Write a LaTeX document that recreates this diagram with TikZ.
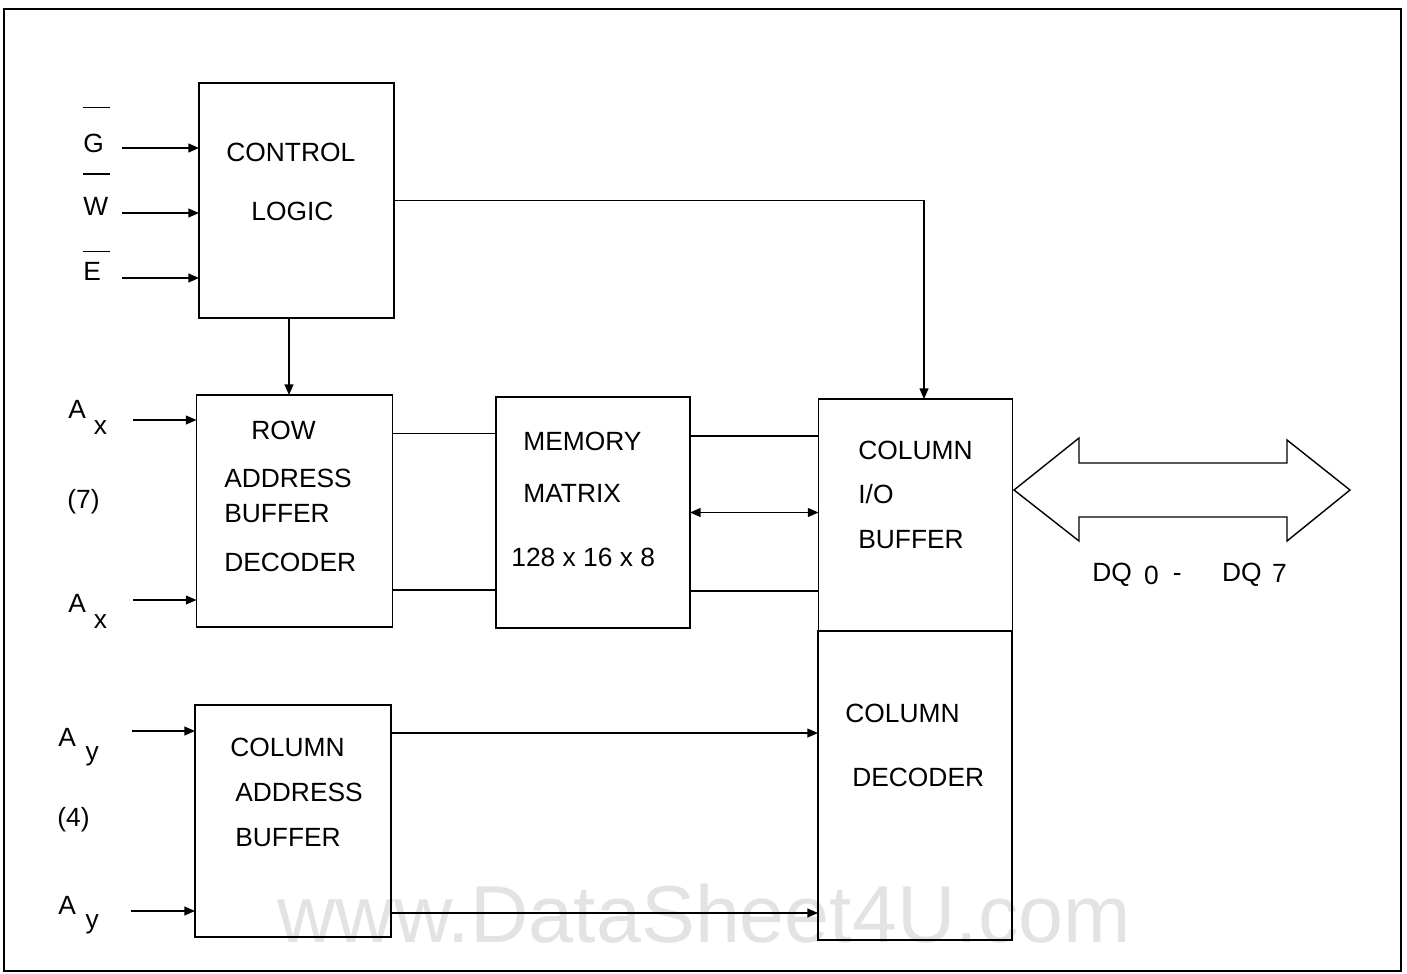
\documentclass[tikz,border=0pt]{standalone}
\usepackage{fontspec}
\setmainfont{Liberation Sans}
\usetikzlibrary{arrows.meta}

% bar over an active-low signal name: raise, letter
\newcommand{\barsig}[2]{\rlap{\raisebox{#1}{\rule{15pt}{0.7pt}}}#2}
% address input: index letter, gap, drop
\newcommand{\addr}[3]{A\hspace{#2}\raisebox{-#3}{#1}}

\begin{document}
\begin{tikzpicture}[
        x=0.02cm, y=-0.02cm,
        font=\fontsize{15pt}{18pt}\selectfont,
        box/.style={draw, line width=0.9pt, inner sep=0pt, outer sep=0pt},
        lbl/.style={anchor=west, inner sep=0pt, text height=10.7pt, text depth=0pt},
        sig/.style={anchor=base west, inner sep=0pt},
        flow/.style={-{Triangle[length=6pt,width=5pt]}, line width=0.8pt},
        both/.style={{Triangle[length=6pt,width=5pt]}-{Triangle[length=6pt,width=5pt]}, line width=0.8pt},
        wire/.style={line width=0.8pt},
        bus/.style={line width=0.8pt, line join=miter}]

    \useasboundingbox (0,0) rectangle (1407,974);

    % watermark, behind everything
    \node[anchor=base west, inner sep=0pt, text=black!11,
          font=\fontsize{46pt}{54pt}\selectfont] (wmark) at (277,942) {www.DataSheet4U.com};

    % outer frame
    \draw[line width=0.9pt] (4,9) rectangle (1401,971);

    % --- Bloques
    \node[box, minimum width=3.90cm, minimum height=4.70cm] (ctrl)   at (296.5,200.5) {};
    \node[box, minimum width=3.92cm, minimum height=4.64cm] (row)    at (294.5,511)   {};
    \node[box, minimum width=3.88cm, minimum height=4.62cm] (mem)    at (593,512.5)   {};
    \node[box, minimum width=3.88cm, minimum height=4.64cm] (colio)  at (915.5,515)   {};
    \node[box, minimum width=3.88cm, minimum height=6.18cm] (coldec) at (915,785.5)   {};
    \node[box, minimum width=3.92cm, minimum height=4.64cm] (cab)    at (293,821)     {};

    \node[lbl] (ctrla) at (226,152) {CONTROL};
    \node[lbl] (ctrlb) at (251,211) {LOGIC};

    \node[lbl] (rowa) at (251,430) {ROW};
    \node[lbl] (rowb) at (224,478) {ADDRESS};
    \node[lbl] (rowc) at (224,513) {BUFFER};
    \node[lbl] (rowd) at (224,562) {DECODER};

    \node[lbl] (mema) at (523,441) {MEMORY};
    \node[lbl] (memb) at (523,493) {MATRIX};
    \node[lbl] (memc) at (511,557) {128 x 16 x 8};

    \node[lbl] (colioa) at (858,450) {COLUMN};
    \node[lbl] (coliob) at (858,494) {I/O};
    \node[lbl] (colioc) at (858,539) {BUFFER};

    \node[lbl] (coldeca) at (845,713) {COLUMN};
    \node[lbl] (coldecb) at (852,777) {DECODER};

    \node[lbl] (caba) at (230,747) {COLUMN};
    \node[lbl] (cabb) at (235,792) {ADDRESS};
    \node[lbl] (cabc) at (235,837) {BUFFER};

    % --- Entradas de control
    \node[sig] (gsig) at (83,152) {\barsig{25pt}{G}};
    \node[sig] (wsig) at (83,215) {\barsig{23pt}{W}};
    \node[sig] (esig) at (83,280) {\barsig{16pt}{E}};
    \coordinate (gin) at (122,148);
    \coordinate (win) at (122,213);
    \coordinate (ein) at (122,278);
    \draw[flow] (gin) -- (gin -| ctrl.west);
    \draw[flow] (win) -- (win -| ctrl.west);
    \draw[flow] (ein) -- (ein -| ctrl.west);

    % --- Direcciones
    \node[sig] (axhi) at (68,418) {\addr{x}{4.5pt}{9.5pt}};
    \node[lbl] (axn)  at (67,499) {(7)};
    \node[sig] (axlo) at (68,612) {\addr{x}{4.5pt}{9.5pt}};
    \coordinate (axhiin) at (133,420);
    \coordinate (axloin) at (133,600);
    \draw[flow] (axhiin) -- (axhiin -| row.west);
    \draw[flow] (axloin) -- (axloin -| row.west);

    \node[sig] (ayhi) at (58,746) {\addr{y}{5.5pt}{8pt}};
    \node[lbl] (ayn)  at (57,817) {(4)};
    \node[sig] (aylo) at (58,914) {\addr{y}{5.5pt}{8pt}};
    \coordinate (ayhiin) at (132,731);
    \coordinate (ayloin) at (131,911);
    \draw[flow] (ayhiin) -- (ayhiin -| cab.west);
    \draw[flow] (ayloin) -- (ayloin -| cab.west);

    % --- Conexiones internas
    \draw[flow] ([xshift=-0.15cm]ctrl.south) -- ([xshift=-0.15cm]ctrl.south |- row.north);
    \draw[flow] (ctrl.east) -| ([xshift=0.17cm]colio.north);

    \draw[wire] ([yshift=1.55cm]row.east)  -- ([yshift=1.55cm]row.east -| mem.west);
    \draw[wire] ([yshift=-1.58cm]row.east) -- ([yshift=-1.58cm]row.east -| mem.west);
    \draw[wire] ([yshift=1.53cm]mem.east)  -- ([yshift=1.53cm]mem.east -| colio.west);
    \draw[wire] ([yshift=-1.57cm]mem.east) -- ([yshift=-1.57cm]mem.east -| colio.west);
    \draw[both] (mem.east) -- (mem.east -| colio.west);

    \draw[flow] ([yshift=1.76cm]cab.east)  -- ([yshift=1.76cm]cab.east -| coldec.west);
    \draw[flow] ([yshift=-1.84cm]cab.east) -- ([yshift=-1.84cm]cab.east -| coldec.west);

    % --- Bus de datos
    \coordinate (dqtip) at (1014,490);
    \draw[bus] (dqtip) -- (1079,438) -- (1079,463) -- (1287,463) -- (1287,440)
               -- (1350,490) -- (1287,541) -- (1287,517) -- (1079,517) -- (1079,541) -- cycle;
    \node[sig] (dqlbl) at (1092,581)
        {DQ\hspace{7pt}\raisebox{-2pt}{0}\hspace{8pt}-\hspace{23pt}DQ\hspace{6pt}\raisebox{-1pt}{7}};

\end{tikzpicture}
\end{document}
